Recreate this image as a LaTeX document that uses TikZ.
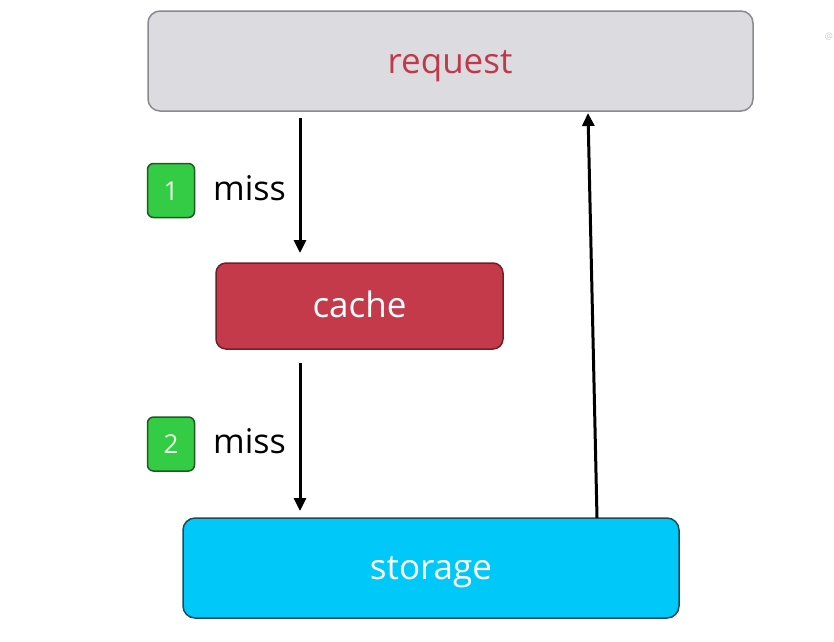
\documentclass[tikz,border=0pt]{standalone}
\usepackage{fontspec}
\setmainfont{Open Sans}
\usetikzlibrary{arrows.meta}
\definecolor{reqfill}{HTML}{DCDCE0}
\definecolor{reqdraw}{HTML}{8A8A8E}
\definecolor{reqtext}{HTML}{C0394B}
\definecolor{cachefill}{HTML}{C43A4A}
\definecolor{cachedraw}{HTML}{6E2028}
\definecolor{storfill}{HTML}{00C8F8}
\definecolor{stordraw}{HTML}{1E4A5A}
\definecolor{badgefill}{HTML}{33CC44}
\definecolor{badgedraw}{HTML}{1E5A22}
\begin{document}
\begin{tikzpicture}[x=1pt,y=-1pt,
  box/.style={rounded corners=12pt,line width=1.5pt,inner sep=0pt},
  boxtext/.style={anchor=base,inner sep=0pt,font=\fontsize{35}{40}\selectfont},
  badge/.style={draw=badgedraw,fill=badgefill,rounded corners=6pt,line width=1.5pt,minimum width=47pt,minimum height=54pt,inner sep=0pt},
  badgetext/.style={anchor=base,inner sep=0pt,text=white!92!green,font=\fontsize{26}{28}\selectfont},
  lbl/.style={font=\fontsize{34}{38}\selectfont,text=black,inner sep=0pt,anchor=base west},
  arr/.style={line width=3pt,-{Triangle[width=12pt,length=13pt]}}]
\useasboundingbox (0,0) rectangle (834,641);
\fill[white] (0,0) rectangle (834,641);
\node[box,draw=reqdraw,fill=reqfill,minimum width=605pt,minimum height=100pt] (req) at (450.5,61) {};
\node[boxtext,text=reqtext] (reqt) at (450,73) {request};
\node[box,draw=cachedraw,fill=cachefill,rounded corners=10pt,minimum width=287pt,minimum height=86pt] (cache) at (359.5,306) {};
\node[boxtext,text=white] (cachet) at (359.5,317) {cache};
\node[box,draw=stordraw,fill=storfill,minimum width=496pt,minimum height=100pt] (stor) at (431,568) {};
\node[boxtext,text=white] (stort) at (431,579) {storage};
\node[badge] (b1) at (171,190.5) {};
\node[badgetext] (b1t) at (171,200) {1};
\node[badge] (b2) at (171,444) {};
\node[badgetext] (b2t) at (171,453.5) {2};
\node[lbl] (m1) at (213,200) {miss};
\node[lbl] (m2) at (213,453) {miss};
\node[text=gray!40,font=\fontsize{9}{10}\selectfont,inner sep=0pt] (wm) at (829,37) {@};
\coordinate (a1s) at (300,118);
\coordinate (a1e) at (300,253);
\coordinate (a2s) at (300,363);
\coordinate (a2e) at (300,511);
\coordinate (a3s) at (597,518);
\coordinate (a3e) at (588,113);
\draw[arr] (a1s) -- (a1e);
\draw[arr] (a2s) -- (a2e);
\draw[arr] (a3s) -- (a3e);
\end{tikzpicture}
\end{document}
